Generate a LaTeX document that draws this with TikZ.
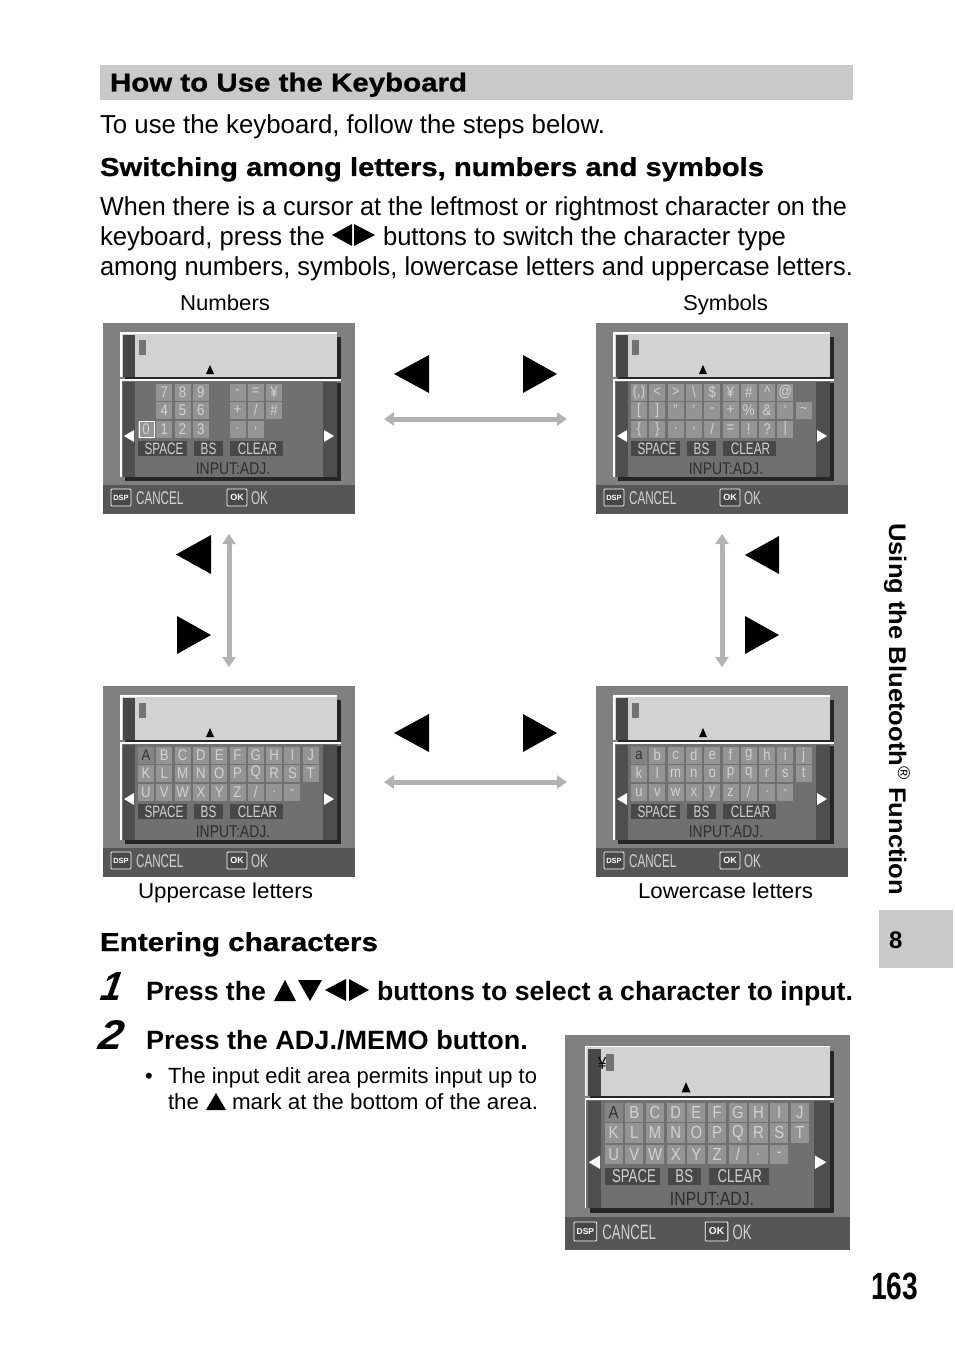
\documentclass[tikz,border=0pt]{standalone}
\usepackage{fontspec}
\usepackage{graphicx}
\setmainfont{Liberation Sans}
\newfontfamily\wide[FakeStretch=1.15,FakeBold=0.8]{Liberation Sans Bold}
\usetikzlibrary{arrows.meta}
\definecolor{scrbg}{HTML}{808080}
\definecolor{scrbar}{HTML}{565656}
\definecolor{panel}{HTML}{D2D2D2}
\definecolor{lower}{HTML}{707070}
\definecolor{strip}{HTML}{484848}
\definecolor{keyf}{HTML}{949494}
\definecolor{keyt}{HTML}{D2D2D2}
\definecolor{hdbar}{HTML}{C9C9C9}
\definecolor{arr}{HTML}{B2B2B2}
\tikzset{
  txt/.style={anchor=base west,inner sep=0pt,outer sep=0pt},
  keytxt/.style={font=\fontsize{15.5}{15.5}\selectfont,text=keyt,xscale=.85,inner sep=0pt},
  funtxt/.style={font=\fontsize{16.5}{16.5}\selectfont,text=keyt,xscale=.71,inner sep=0pt},
  inptxt/.style={font=\fontsize{17}{17}\selectfont,text=black!82,xscale=.82,inner sep=0pt},
  bartxt/.style={font=\fontsize{18.5}{18}\selectfont,text=keyt,xscale=.63,inner sep=0pt,anchor=west},
  both/.style={draw=arr,line width=5pt,{Triangle[width=13pt,length=10pt]}-{Triangle[width=13pt,length=10pt]}},
}
% left-anchored text of exact width
\newcommand{\tl}[6]{\node[txt] (#1) at (#2,#3) {\resizebox{#4pt}{\height}{#5#6}};}
\newcommand{\fbody}{\fontsize{26}{26}\selectfont}
\newcommand{\fcap}{\fontsize{21.5}{22}\selectfont}
\newcommand{\fhd}{\fontsize{26}{26}\selectfont\wide}
\newcommand{\fstp}{\fontsize{26.5}{26}\selectfont\bfseries}
\newcommand{\fnote}{\fontsize{22}{22}\selectfont}
\newcommand{\tril}[4]{\fill[black] (#2,#3) -- (#2,#4) -- (#1,{(#3+#4)/2}) -- cycle;}
\newcommand{\trir}[4]{\fill[black] (#1,#3) -- (#1,#4) -- (#2,{(#3+#4)/2}) -- cycle;}
\newcommand{\keyrow}[3]{%
  \foreach \k [count=\i from #2] in {#3} {
    \fill[keyf] ({43+18.3*\i-8},#1-8.5) rectangle ({43+18.3*\i+8},#1+8.5);
    \node[keytxt] at ({43+18.3*\i},#1) {\k};
  }}
% screen frame: x,y,sx,sy,content
\newcommand{\scr}[5]{%
\begin{scope}[shift={(#1,#2)},xscale=#3,yscale=#4,transform shape]
  \fill[scrbg] (0,0) rectangle (252,191);
  \fill[scrbar] (0,162) rectangle (252,191);
  \fill[black!85] (22,14) rectangle (238,58);
  \fill[panel] (18,10) rectangle (234,54);
  \fill[strip] (20,12) rectangle (32,54);
  \draw[white,line width=1.3pt] (18,54) -- (18,10) -- (234,10);
  \fill[black] (107,42) -- (111,51) -- (103,51) -- cycle;
  \fill[black!85] (22,60) rectangle (238,158);
  \fill[lower] (18,57) rectangle (234,154);
  \fill[strip!85!lower] (20,59) rectangle (32,154);
  \fill[strip!85!lower] (220,59) rectangle (234,154);
  \draw[white,line width=1.5pt] (18,154) -- (18,57) -- (238,57);
  \fill[white] (21,113) -- (31,107) -- (31,119) -- cycle;
  \fill[white] (231,113) -- (221,107) -- (221,119) -- cycle;
  \fill[strip] (35,118) rectangle (84,133);
  \fill[strip] (91,118) rectangle (120,133);
  \fill[strip] (127,118) rectangle (180,133);
  \node[funtxt] at (61,125.5) {SPACE};
  \node[funtxt] at (105.5,125.5) {BS};
  \node[funtxt] at (154.5,125.5) {CLEAR};
  \node[inptxt] at (130,145.5) {INPUT:ADJ.};
  \draw[white,fill=strip,line width=.8pt,rounded corners=1pt] (8,166) rectangle (28,183);
  \node[font=\fontsize{7.5}{8}\selectfont\bfseries,text=white,inner sep=0pt] at (18,174.5) {DSP};
  \node[bartxt] at (33,175) {CANCEL};
  \draw[white,fill=strip,line width=.8pt,rounded corners=1pt] (124,166) rectangle (144,183);
  \node[font=\fontsize{9}{9}\selectfont\bfseries,text=white,inner sep=0pt] at (134,174.5) {OK};
  \node[bartxt] at (148,175) {OK};
  #5
\end{scope}}
\newcommand{\cursor}{\fill[black!55] (36,17) rectangle (43,32);}
\newcommand{\letterkeys}{%
  \keyrow{69}{1}{B,C,D,E,F,G,H,I,J}
  \keyrow{87}{0}{K,L,M,N,O,P,Q,R,S,T}
  \keyrow{106}{0}{U,V,W,X,Y,Z,/,.,-}
  \fill[keyf!115] (35,60.5) rectangle (51,77.5);
  \node[keytxt,text=black!80] at (43,69) {A};}
\begin{document}
\begin{tikzpicture}[x=1pt,y=-1pt]
\useasboundingbox (0,0) rectangle (954,1351);
\fill[white] (0,0) rectangle (954,1351);
% heading
\fill[hdbar] (100,65) rectangle (853,100);
\tl{t1}{110}{91.5}{357}{\fhd}{How to Use the Keyboard}
\tl{t2}{100}{133.5}{505}{\fbody}{To use the keyboard, follow the steps below.}
\tl{t3}{100}{176}{664}{\fhd}{Switching among letters, numbers and symbols}
\tl{t4}{100}{215.5}{747}{\fbody}{When there is a cursor at the leftmost or rightmost character on the}
\tl{t5}{100}{245.5}{225}{\fbody}{keyboard, press the}
\tril{332}{352}{224}{246}
\trir{354}{375}{224}{246}
\tl{t6}{383}{245.5}{403}{\fbody}{buttons to switch the character type}
\tl{t7}{100}{275}{753}{\fbody}{among numbers, symbols, lowercase letters and uppercase letters.}
\tl{c1}{180}{310}{90}{\fcap}{Numbers}
\tl{c2}{683}{310}{85}{\fcap}{Symbols}
\tl{c3}{138}{898}{175}{\fcap}{Uppercase letters}
\tl{c4}{638}{898}{175}{\fcap}{Lowercase letters}
% screens
\scr{103}{323}{1}{1}{\cursor
  \keyrow{69}{1}{7,8,9}\keyrow{69}{5}{-,=,¥}
  \keyrow{87}{1}{4,5,6}\keyrow{87}{5}{+,/,\#}
  \keyrow{106}{0}{0,1,2,3}\keyrow{106}{5}{.,{,}}
  \draw[white,line width=.7pt] (36,98) rectangle (51,114);}
\scr{596}{323}{1}{1}{\cursor
  \keyrow{69}{0}{(,),<,>,\textbackslash,\$,¥,\#,\^{},@}
  \keyrow{87}{0}{[,],",',-,+,\%,\&,`,\textasciitilde}
  \keyrow{106}{0}{\{,\},.,{,},/,=,!,?,|}}
\scr{103}{686}{1}{1}{\cursor\letterkeys}
\scr{596}{686}{1}{1}{\cursor
  \keyrow{69}{1}{b,c,d,e,f,g,h,i,j}
  \keyrow{87}{0}{k,l,m,n,o,p,q,r,s,t}
  \keyrow{106}{0}{u,v,w,x,y,z,/,.,-}
  \fill[keyf!115] (35,60.5) rectangle (51,77.5);
  \node[keytxt,text=black!80] at (43,69) {a};}
\scr{565}{1035}{1.131}{1.126}{\cursor\letterkeys
  \node[keytxt,text=black] at (33,25) {¥};}
% big triangles
\tril{394}{429}{355}{393}\trir{523}{557}{355}{393}
\tril{394}{429}{714}{752}\trir{523}{557}{714}{752}
\tril{176}{211}{535}{574}\trir{177}{211}{616}{654}
\tril{745}{779}{536}{574}\trir{745}{779}{616}{654}
% double arrows
\coordinate (ha) at (384,419); \coordinate (hb) at (567,419);
\coordinate (hc) at (384,782); \coordinate (hd) at (567,782);
\coordinate (va) at (229,534); \coordinate (vb) at (229,667);
\coordinate (vc) at (722,534); \coordinate (vd) at (722,667);
\draw[both] (ha) -- (hb);
\draw[both] (hc) -- (hd);
\draw[both] (va) -- (vb);
\draw[both] (vc) -- (vd);
% entering
\tl{t8}{100}{951}{278}{\fhd}{Entering characters}
\node[txt,xslant=.18] (n1) at (99,1000) {\resizebox{21pt}{28pt}{\bfseries\itshape 1}};
\node[txt,xslant=.18] (n2) at (97,1049.5) {\resizebox{24pt}{29pt}{\bfseries\itshape 2}};
\tl{t9}{146}{1000}{120}{\fstp}{Press the}
\fill[black] (285,980) -- (296,1001) -- (274,1001) -- cycle;
\fill[black] (298,980) -- (322,980) -- (310,1001) -- cycle;
\tril{325}{346}{979}{1001}
\trir{349}{369}{979}{1001}
\tl{t10}{377}{1000}{476}{\fstp}{buttons to select a character to input.}
\tl{t11}{146}{1049}{382}{\fstp}{Press the ADJ./MEMO button.}
\node[txt,font=\fnote] (b) at (145,1083) {•};
\tl{t12}{168}{1083}{369}{\fnote}{The input edit area permits input up to}
\tl{t13}{168}{1109}{31}{\fnote}{the}
\fill[black] (216,1093) -- (226,1110) -- (206,1110) -- cycle;
\tl{t14}{232}{1109}{306}{\fnote}{mark at the bottom of the area.}
% side
\node[anchor=base west,inner sep=0pt,rotate=-90] (side) at (889,523)
  {\resizebox{372pt}{\height}{\fontsize{24}{24}\selectfont\bfseries Using the Bluetooth\textsuperscript{\fontsize{17}{17}\selectfont\mdseries ®} Function}};
\fill[hdbar] (879,910) rectangle (953,968);
\node[txt,font=\fontsize{24}{24}\selectfont\bfseries] (ch) at (889,948) {8};
\node[txt] (pg) at (871,1299) {\resizebox{47pt}{\height}{\fontsize{38}{38}\selectfont\bfseries 163}};
\end{tikzpicture}
\end{document}
